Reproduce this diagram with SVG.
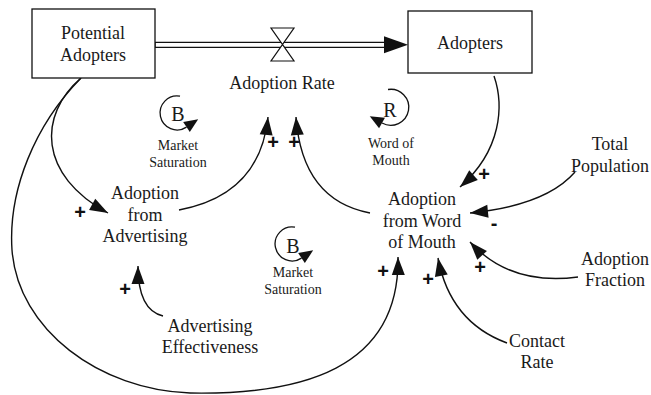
<svg xmlns="http://www.w3.org/2000/svg" width="651" height="395" viewBox="0 0 651 395">
<style>
.lbl{font-family:"Liberation Serif","Times New Roman",serif;font-size:18px;fill:#1a1a1a;text-anchor:middle}
.small{font-family:"Liberation Serif","Times New Roman",serif;font-size:14px;fill:#1a1a1a;text-anchor:middle}
.loopl{font-family:"Liberation Serif","Times New Roman",serif;font-size:20px;fill:#1a1a1a;text-anchor:middle}
.sign{font-family:"Liberation Sans",Arial,sans-serif;font-size:20px;font-weight:bold;fill:#111;text-anchor:middle}
.box{fill:#fff;stroke:#111;stroke-width:1.3}
.link{fill:none;stroke:#111;stroke-width:1.4;marker-end:url(#ah)}
.loop{fill:none;stroke:#111;stroke-width:1.3;marker-end:url(#lah)}
</style>
<defs>
<marker id="ah" markerUnits="userSpaceOnUse" markerWidth="20" markerHeight="14" refX="18" refY="6.5" orient="auto" overflow="visible">
<path d="M0,0 L18,6.5 L0,13 Z" fill="#111"/>
</marker>
<marker id="lah" markerUnits="userSpaceOnUse" markerWidth="16" markerHeight="12" refX="0" refY="6" orient="auto" overflow="visible">
<path d="M0,0 L14,6 L0,12 Z" fill="#111"/>
</marker>
<marker id="pah" markerUnits="userSpaceOnUse" markerWidth="26" markerHeight="18" refX="24" refY="8.5" orient="auto" overflow="visible">
<path d="M0,0 L24,8.5 L0,17 Z" fill="#111"/>
</marker>
</defs>

<g id="connectors">
<g id="pipe">
<line x1="155" y1="42.3" x2="390" y2="42.3" stroke="#111" stroke-width="1.3"/>
<line x1="155" y1="47.3" x2="390" y2="47.3" stroke="#111" stroke-width="1.3"/>
<line x1="155" y1="42.3" x2="155" y2="47.3" stroke="#111" stroke-width="1.3"/>
<path d="M384,44.8 L408,44.8" stroke="none" fill="none" marker-end="url(#pah)"/>
</g>
<path class="link" d="M179,210 Q260,195 268,117"/>
<path class="link" d="M370,213 Q302,200 296,117"/>
<path class="link" d="M494,76 C504,105 502,150 460,187"/>
<path class="link" d="M575,172 C555,195 520,208 470,213"/>
<path class="link" d="M578,277 Q510,286 470,242"/>
<path class="link" d="M507,343 Q450,322 438,258"/>
<path class="link" d="M163,316 Q138,310 138,266"/>
<path class="link" d="M81,78 C38,115 38,175 108,213"/>
<path class="link" d="M81,78 C35,125 8,190 12,250 C18,330 100,390 190,393 C300,395 400,370 398,257"/>
</g>

<g id="potential-adopters">
<rect class="box" x="32" y="9" width="123" height="69"/>
<text class="lbl" x="93" y="39">Potential</text>
<text class="lbl" x="93" y="61">Adopters</text>
</g>

<g id="adopters">
<rect class="box" x="408" y="11" width="124" height="62"/>
<text class="lbl" x="470" y="49">Adopters</text>
</g>

<g id="adoption-rate">
<path d="M271,28 L294,28 L271,61 L294,61 Z" fill="#fff" stroke="#111" stroke-width="1.2"/>
<text class="lbl" x="282" y="89">Adoption Rate</text>
</g>

<g id="adoption-from-advertising">
<text class="lbl" x="145" y="199">Adoption</text>
<text class="lbl" x="145" y="221">from</text>
<text class="lbl" x="145" y="242">Advertising</text>
</g>

<g id="adoption-from-word-of-mouth">
<text class="lbl" x="422" y="205">Adoption</text>
<text class="lbl" x="422" y="227">from Word</text>
<text class="lbl" x="422" y="248">of Mouth</text>
</g>

<g id="total-population">
<text class="lbl" x="610" y="150">Total</text>
<text class="lbl" x="610" y="172">Population</text>
</g>

<g id="adoption-fraction">
<text class="lbl" x="615" y="265">Adoption</text>
<text class="lbl" x="615" y="286">Fraction</text>
</g>

<g id="contact-rate">
<text class="lbl" x="537" y="347">Contact</text>
<text class="lbl" x="537" y="368">Rate</text>
</g>

<g id="advertising-effectiveness">
<text class="lbl" x="210" y="332">Advertising</text>
<text class="lbl" x="210" y="353">Effectiveness</text>
</g>

<g id="loop-b1">
<path class="loop" d="M180,96.2 A17,17 0 1 0 186.5,127.1"/>
<text class="loopl" x="178" y="121">B</text>
<text class="small" x="178" y="150">Market</text>
<text class="small" x="178" y="167">Saturation</text>
</g>

<g id="loop-r">
<path class="loop" d="M388,89.5 A18,18 0 1 1 382,123"/>
<text class="loopl" x="390" y="117">R</text>
<text class="small" x="391" y="148">Word of</text>
<text class="small" x="391" y="165">Mouth</text>
</g>

<g id="loop-b2">
<path class="loop" d="M295,227.2 A17,17 0 1 0 301.5,258.1"/>
<text class="loopl" x="293" y="253">B</text>
<text class="small" x="293" y="277">Market</text>
<text class="small" x="293" y="294">Saturation</text>
</g>

<g id="polarities">
<text class="sign" x="273" y="149">+</text>
<text class="sign" x="294" y="149">+</text>
<text class="sign" x="484" y="181">+</text>
<text class="sign" x="494" y="230">-</text>
<text class="sign" x="480" y="274">+</text>
<text class="sign" x="428" y="286">+</text>
<text class="sign" x="383" y="278">+</text>
<text class="sign" x="80" y="219">+</text>
<text class="sign" x="125" y="296">+</text>
</g>
</svg>
